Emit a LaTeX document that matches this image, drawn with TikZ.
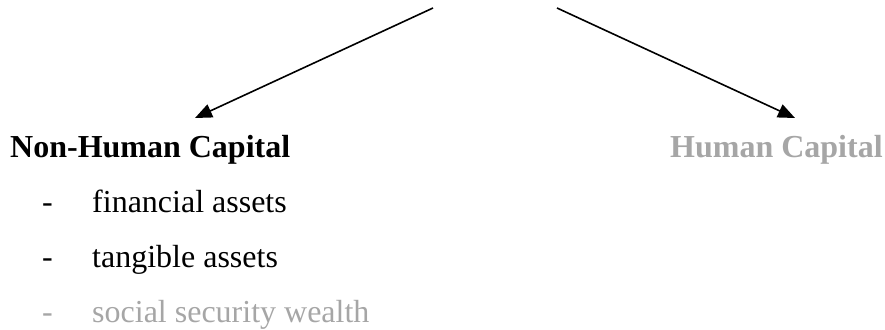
\documentclass[tikz,border=0pt]{standalone}
\usepackage{fontspec}
\setmainfont{Liberation Serif}
\usetikzlibrary{arrows.meta}
\definecolor{lightgrey}{RGB}{166,166,166}
\begin{document}
\begin{tikzpicture}[x=1pt,y=-1pt,
  txt/.style={inner sep=0pt,anchor=base west,font=\fontsize{32}{38}\selectfont},
  head/.style={txt,font=\fontsize{32}{38}\selectfont\bfseries},
  arr/.style={line width=1.6pt,-{Triangle[length=17pt,width=14pt]}}]
\useasboundingbox (0,0) rectangle (885,329);
\node[head] (nh) at (10,157) {Non-Human Capital};
\node[head,text=lightgrey] (hc) at (670,157) {Human Capital};
\node[txt] (d1) at (42,212) {-};
\node[txt] (i1) at (92,212) {financial assets};
\node[txt] (d2) at (42,267) {-};
\node[txt] (i2) at (92,267) {tangible assets};
\node[txt,text=lightgrey] (d3) at (42,322) {-};
\node[txt,text=lightgrey] (i3) at (92,322) {social security wealth};
\coordinate (s1) at (433,8);
\coordinate (e1) at (195,118);
\coordinate (s2) at (557,8);
\coordinate (e2) at (795,118);
\draw[arr] (s1) -- (e1);
\draw[arr] (s2) -- (e2);
\end{tikzpicture}
\end{document}
